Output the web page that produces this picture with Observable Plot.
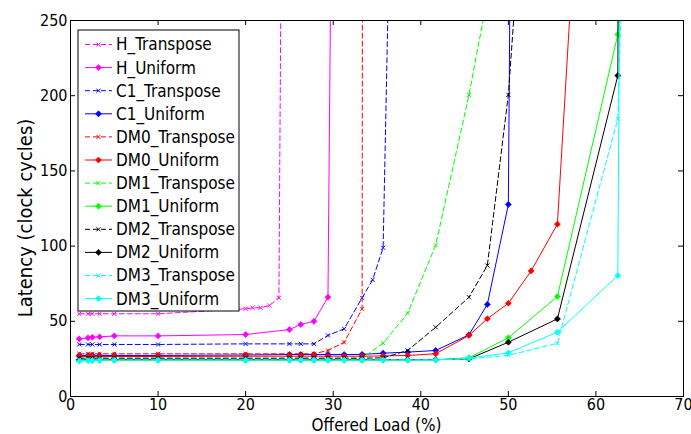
<!DOCTYPE html>
<html><head><meta charset="utf-8">
<script src="https://cdn.jsdelivr.net/npm/d3@7"></script>
<script src="https://cdn.jsdelivr.net/npm/@observablehq/plot@0.6"></script>
<style>
body{margin:0;background:#fff;}
#chart{width:691px;height:434px;}
</style></head><body><div id="chart"></div>
<script>
// ---------- DATA ----------
const seriesNames = ["H_Transpose","H_Uniform","C1_Transpose","C1_Uniform","DM0_Transpose","DM0_Uniform",
  "DM1_Transpose","DM1_Uniform","DM2_Transpose","DM2_Uniform","DM3_Transpose","DM3_Uniform"];
const xTicks = [0,10,20,30,40,50,60,70];
const yTicks = [0,50,100,150,200,250];

const hTransposeLoad    = [1,2,2.5,3.33,5,10,20,20.8,21.7,22.7,23.8,25];
const hTransposeLatency = [55,55,55,55,55,55,58.3,59,59,60.5,65.6,1150];
const hUniformLoad      = [1,2,2.5,3.33,5,10,20,25,26.3,27.8,29.4,31.25];
const hUniformLatency   = [38.3,39,39.4,39.6,40.3,40.3,41.2,44.5,47.9,50,66,1300];
const c1TransposeLoad    = [1,2,2.5,3.33,5,10,20,25,26.3,27.8,29.4,31.25,33.3,34.5,35.7,38.5];
const c1TransposeLatency = [34.6,34.6,34.6,34.6,34.6,34.6,35,35,35,35,40.6,45,65.6,77.6,98.9,900];
const c1UniformLoad    = [1,2,2.5,3.33,5,10,20,25,26.3,27.8,29.4,31.25,33.3,35.7,38.5,41.7,45.5,47.6,50,52.6];
const c1UniformLatency = [27.3,27.3,27.3,27.3,27.3,27.3,27.6,27.9,27.9,27.9,27.9,27.9,28,28.8,29.5,30.6,41,61.2,127.7,2160];
const dm0TransposeLoad    = [1,2,2.5,3.33,5,10,20,25,26.3,27.8,29.4,31.25,33.3,34.5];
const dm0TransposeLatency = [28.4,28.4,28.4,28.4,28.4,28.4,28.4,28.4,28.4,28.4,30.6,36,58.3,8000];
const dm0UniformLoad    = [1,2,2.5,3.33,5,10,20,25,26.3,27.8,29.4,31.25,33.3,35.7,38.5,41.7,45.5,47.6,50,52.6,55.6,62.5];
const dm0UniformLatency = [26.6,26.6,26.6,26.6,26.6,26.6,26.8,26.8,26.8,26.8,26.8,26.8,26.8,27,27.3,28.4,40.6,51.7,62,83.5,114.6,790];
const dm1TransposeLoad    = [1,2,2.5,3.33,5,10,20,25,26.3,27.8,29.4,31.25,33.3,35.7,38.5,41.7,45.5,47.6,50];
const dm1TransposeLatency = [25,25,25,25,25,25,25,25,25,25,25,25,25.5,35.4,55.4,100.6,200.5,265,2000];
const dm1UniformLoad    = [1,2,2.5,3.33,5,10,20,25,26.3,27.8,29.4,31.25,33.3,35.7,38.5,41.7,45.5,50,55.6,62.5,71.4];
const dm1UniformLatency = [24.2,24.2,24.2,24.2,24.2,24.2,24.2,24.2,24.2,24.2,24.2,24.2,24.2,24.2,24.2,24.4,25.8,39,66.5,240.7,10000];
const dm2TransposeLoad    = [1,2,2.5,3.33,5,10,20,25,26.3,27.8,29.4,31.25,33.3,35.7,38.5,41.7,45.5,47.6,50,52.6];
const dm2TransposeLatency = [25.5,25.5,25.5,25.5,25.5,25.5,25.5,25.5,25.5,25.5,25.5,25.5,25.5,25.7,30.6,46,66,87.1,200.6,414];
const dm2UniformLoad    = [1,2,2.5,3.33,5,10,20,25,26.3,27.8,29.4,31.25,33.3,35.7,38.5,41.7,45.5,50,55.6,62.5,71.4];
const dm2UniformLatency = [24.5,24.5,24.5,24.5,24.5,24.5,24.5,24.5,24.5,24.5,24.5,24.5,24.5,24.5,24.5,24.5,25,36.1,51.6,213.4,10000];
const dm3TransposeLoad    = [1,2,2.5,3.33,5,10,20,25,26.3,27.8,29.4,31.25,33.3,35.7,38.5,41.7,45.5,50,55.6,62.5,71.4];
const dm3TransposeLatency = [24.4,24.4,24.4,24.4,24.4,24.4,24.4,24.4,24.4,24.4,24.4,24.4,24.4,24.4,24.4,24.4,25,27.3,35.4,184.6,2000];
const dm3UniformLoad    = [1,2,2.5,3.33,5,10,20,25,26.3,27.8,29.4,31.25,33.3,35.7,38.5,41.7,45.5,50,55.6,62.5,71.4];
const dm3UniformLatency = [23.5,23.9,23.9,24.2,24.2,24.2,24.2,24.2,24.2,24.2,24.2,24.2,24.2,24.2,24.2,24.3,25.5,29,42.8,80.4,8400];

const seriesLoads = [hTransposeLoad,hUniformLoad,c1TransposeLoad,c1UniformLoad,dm0TransposeLoad,dm0UniformLoad,
  dm1TransposeLoad,dm1UniformLoad,dm2TransposeLoad,dm2UniformLoad,dm3TransposeLoad,dm3UniformLoad];
const seriesLatencies = [hTransposeLatency,hUniformLatency,c1TransposeLatency,c1UniformLatency,dm0TransposeLatency,dm0UniformLatency,
  dm1TransposeLatency,dm1UniformLatency,dm2TransposeLatency,dm2UniformLatency,dm3TransposeLatency,dm3UniformLatency];

// ---------- STYLE ----------
const palette = ["#ff00ff","#ff00ff","#0000ff","#0000ff","#ff0000","#ff0000",
  "#00ff00","#00ff00","#000000","#000000","#00ffff","#00ffff"];
const isTranspose = name => name.endsWith("Transpose");
const FONT = "DejaVu Sans Condensed";
const W = 691, H = 434, mt = 20, mb = 38, ml = 70, mr = 8;
const plotW = W - ml - mr, plotH = H - mt - mb;
const dash = "5,3";

const marks = [];
seriesNames.forEach((name, i) => {
  const rows = seriesLoads[i].map((x, j) => ({series: name, load: x, latency: seriesLatencies[i][j]}));
  const color = palette[i];
  const tr = isTranspose(name);
  marks.push(Plot.line(rows, {x: "load", y: "latency", stroke: color, strokeWidth: 1,
    strokeDasharray: tr ? dash : null, clip: true}));
  if (tr) {
    marks.push(Plot.dot(rows, {x: "load", y: "latency", symbol: "times", r: 2, stroke: color, strokeWidth: 1, clip: true}));
  } else {
    marks.push(Plot.dot(rows, {x: "load", y: "latency", symbol: "diamond2", r: 2.8, fill: color, stroke: color, strokeWidth: 0.5, clip: true}));
  }
});

marks.push(
  Plot.tickX(xTicks, {x: d => d, insetBottom: plotH - 5, stroke: "black"}),
  Plot.tickX(xTicks, {x: d => d, insetTop: plotH - 5, stroke: "black"}),
  Plot.tickY(yTicks, {y: d => d, insetRight: plotW - 5, stroke: "black"}),
  Plot.tickY(yTicks, {y: d => d, insetLeft: plotW - 5, stroke: "black"}),
  Plot.axisX({ticks: xTicks, tickSize: 0, tickPadding: 2, label: null, fontSize: 16}),
  Plot.axisY({ticks: yTicks, tickSize: 0, tickPadding: 3, label: null, fontSize: 16}),
  Plot.frame({stroke: "black", strokeWidth: 1})
);

const svg = Plot.plot({
  width: W, height: H, marginTop: mt, marginBottom: mb, marginLeft: ml, marginRight: mr,
  style: {fontFamily: FONT, fontSize: "16px", background: "white", color: "black", overflow: "visible"},
  x: {domain: [0, 70], label: null},
  y: {domain: [0, 250], label: null},
  marks
});
document.getElementById("chart").appendChild(svg);

// ---------- LABELS & LEGEND ----------
const s = d3.select(svg);
s.append("text").attr("x", ml + plotW / 2).attr("y", 425).attr("dy", "0.35em")
  .attr("text-anchor", "middle").attr("font-family", FONT).attr("font-size", 17).attr("fill", "black")
  .text("Offered Load (%)");
s.append("text").attr("transform", `translate(25,218) rotate(-90)`).attr("dy", "0.35em")
  .attr("text-anchor", "middle").attr("font-family", FONT).attr("font-size", 20).attr("fill", "black")
  .text("Latency (clock cycles)");

const lg = s.append("g").attr("text-anchor", "start");
const lx = 78, ly = 30, lw = 161, lh = 281, step = 23.1, first = 44.5;
lg.append("rect").attr("x", lx).attr("y", ly).attr("width", lw).attr("height", lh)
  .attr("fill", "white").attr("stroke", "black").attr("stroke-width", 1);
seriesNames.forEach((name, i) => {
  const y = first + i * step;
  const color = palette[i];
  const tr = isTranspose(name);
  lg.append("line").attr("x1", 85).attr("x2", 112).attr("y1", y).attr("y2", y)
    .attr("stroke", color).attr("stroke-width", 1).attr("stroke-dasharray", tr ? dash : null);
  const sym = d3.symbol(tr ? d3.symbolTimes : d3.symbolDiamond2, tr ? 4 * Math.PI : 2.8 * 2.8 * Math.PI);
  lg.append("path").attr("d", sym()).attr("transform", `translate(98.5,${y})`)
    .attr("fill", tr ? "none" : color).attr("stroke", color).attr("stroke-width", tr ? 1 : 0.5);
  lg.append("text").attr("x", 116).attr("y", y).attr("dy", "0.35em").attr("text-anchor", "start")
    .attr("font-family", FONT).attr("font-size", 17).attr("fill", "black").text(name);
});
</script></body></html>
